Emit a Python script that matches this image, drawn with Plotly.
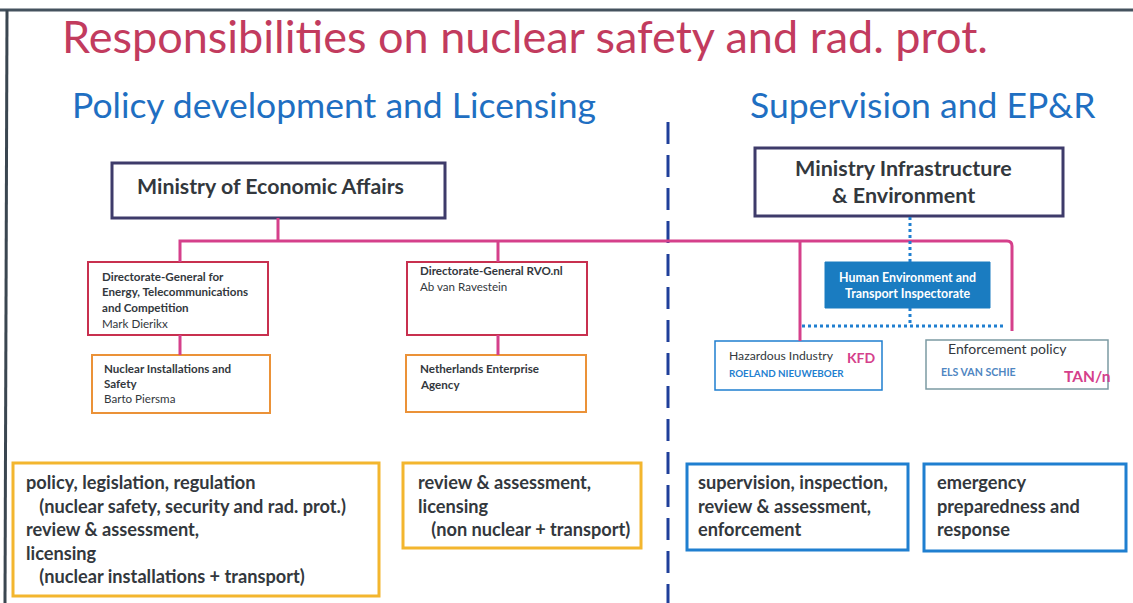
import plotly.graph_objects as go

# ---------------- content (text) ----------------
title = "Responsibilities on nuclear safety and rad. prot."
left_heading = "Policy development and Licensing"
right_heading = "Supervision and EP&R"

ministry_ea = ["Ministry of Economic Affairs"]
ministry_ie = ["Ministry Infrastructure", "& Environment"]

dg_etc = ["Directorate-General for", "Energy, Telecommunications", "and Competition"]
dg_etc_name = "Mark Dierikx"
nis = ["Nuclear Installations and", "Safety"]
nis_name = "Barto Piersma"
dg_rvo = ["Directorate-General RVO.nl"]
dg_rvo_name = "Ab van Ravestein"
nea = ["Netherlands Enterprise", "Agency"]

ilt = ["Human Environment and", "Transport Inspectorate"]
kfd_label, kfd_code, kfd_name = "Hazardous Industry", "KFD", "ROELAND NIEUWEBOER"
tan_label, tan_code, tan_name = "Enforcement policy", "TAN/n", "ELS VAN SCHIE"

resp_1 = ["policy, legislation, regulation", "   (nuclear safety, security and rad. prot.)",
          "review & assessment,", "licensing", "   (nuclear installations + transport)"]
resp_2 = ["review & assessment,", "licensing", "   (non nuclear + transport)"]
resp_3 = ["supervision, inspection,", "review & assessment,", "enforcement"]
resp_4 = ["emergency", "preparedness and", "response"]

# ---------------- styles ----------------
C_TITLE = "#c23b5e"
C_HEAD = "#1f6fc2"
C_NAVY = "#3e3b6a"
C_PINK = "#d5408b"
C_RED = "#c8304f"
C_ORANGE = "#eb9238"
C_GOLD = "#f3b62e"
C_BLUE = "#1f7fd0"
C_FILL = "#1a7cc1"
C_DASH = "#1f3f9a"
C_TXT = "#33383d"
FONT = "Lato"

fig = go.Figure()
shapes = []
annotations = []


def box(x0, y0, x1, y1, color, width, fill="rgba(0,0,0,0)"):
    shapes.append(dict(type="rect", x0=x0, y0=y0, x1=x1, y1=y1,
                       line=dict(color=color, width=width), fillcolor=fill, layer="below"))


def line(x0, y0, x1, y1, color, width, dash="solid"):
    shapes.append(dict(type="line", x0=x0, y0=y0, x1=x1, y1=y1,
                       line=dict(color=color, width=width, dash=dash)))


def text(x, y, s, size, color=C_TXT, bold=False, xanchor="left", family=FONT):
    annotations.append(dict(x=x, y=y, text=("<b>%s</b>" % s) if bold else s, showarrow=False,
                            xanchor=xanchor, yanchor="middle",
                            font=dict(size=size, color=color, family=family)))


def lines(x, y0, step, items, size, color=C_TXT, bold=False, xanchor="left"):
    for i, s in enumerate(items):
        text(x, y0 + i * step, s, size, color, bold, xanchor)


# frame
line(0, 10, 1133, 10, "#44525e", 3)
line(7, 10, 5, 603, "#3a4650", 3)

# headings
text(60, 36, title, 45, C_TITLE)
text(70, 104, left_heading, 35.5, C_HEAD)
text(748, 104, right_heading, 35.5, C_HEAD)

# dashed divider
line(668, 122, 668, 603, C_DASH, 3, "22px,11px")

# pink connectors
line(278, 218, 278, 241, C_PINK, 3)
shapes.append(dict(type="path", path="M 180 262 L 180 241 L 1007 241 Q 1012 241 1012 246 L 1012 331",
                   line=dict(color=C_PINK, width=3)))
line(180, 335, 180, 355, C_PINK, 3)
line(498, 241, 498, 262, C_PINK, 3)
line(498, 335, 498, 355, C_PINK, 3)
line(800, 241, 800, 341, C_PINK, 3)

# dotted blue connectors
line(910, 217, 910, 262, C_BLUE, 3, "dot")
line(910, 308, 910, 326, C_BLUE, 3, "dot")
line(802, 326, 1005, 326, C_BLUE, 3, "dot")

# ministries
box(112, 163, 445, 218, C_NAVY, 3)
lines(270, 186, 0, ministry_ea, 21.3, C_TXT, True, "center")
box(755, 148, 1063, 216, C_NAVY, 3)
lines(903, 168, 27, ministry_ie, 21.5, C_TXT, True, "center")

# directorates
box(88, 262, 268, 335, C_RED, 2)
lines(100, 276, 15.5, dg_etc, 11.6, C_TXT, True)
text(100, 323, dg_etc_name, 11.6, C_TXT)
box(92, 355, 270, 413, C_ORANGE, 2)
lines(102, 368, 15.5, nis, 11.6, C_TXT, True)
text(102, 398, nis_name, 11.6, C_TXT)
box(407, 262, 587, 335, C_RED, 2)
lines(418, 270, 16, dg_rvo, 11.6, C_TXT, True)
text(418, 286, dg_rvo_name, 11.6, C_TXT)
box(406, 355, 586, 412, C_ORANGE, 2)
lines(418, 368, 16, nea, 11.6, C_TXT, True)

# inspectorate
box(825, 262, 990, 308, C_FILL, 1, C_FILL)
lines(907, 277, 16, ilt, 12.4, "white", True, "center")
box(715, 341, 882, 390, C_BLUE, 1.5)
text(727, 355, kfd_label, 12.2, C_TXT)
text(845, 357, kfd_code, 14, C_PINK, True)
text(727, 373, kfd_name, 9.8, C_BLUE, True)
box(926, 340, 1108, 389, "#7c9aa3", 1.5)
text(946, 348, tan_label, 14, C_TXT)
text(939, 372, tan_name, 10.6, "#4f86c2", True)
text(1062, 376, tan_code, 15.5, C_PINK, True)

# responsibilities
box(13, 463, 379, 596, C_GOLD, 3)
lines(24, 482, 23.5, resp_1, 18.2, C_TXT, True)
box(403, 463, 641, 548, C_GOLD, 3)
lines(416, 482, 23.5, resp_2, 18.2, C_TXT, True)
box(687, 464, 908, 550, C_BLUE, 3)
lines(696, 482, 23.5, resp_3, 18.2, C_TXT, True)
box(924, 464, 1126, 551, C_BLUE, 3)
lines(935, 482, 23.5, resp_4, 18.2, C_TXT, True)

fig.update_layout(
    width=1133, height=603,
    margin=dict(l=0, r=0, t=0, b=0),
    paper_bgcolor="white", plot_bgcolor="white",
    xaxis=dict(range=[0, 1133], visible=False, fixedrange=True),
    yaxis=dict(range=[603, 0], visible=False, fixedrange=True),
    shapes=shapes, annotations=annotations, showlegend=False,
)
fig.write_html("out.html", config={"displayModeBar": False},
               post_script="document.body.style.margin='0';document.body.style.overflow='hidden';")
